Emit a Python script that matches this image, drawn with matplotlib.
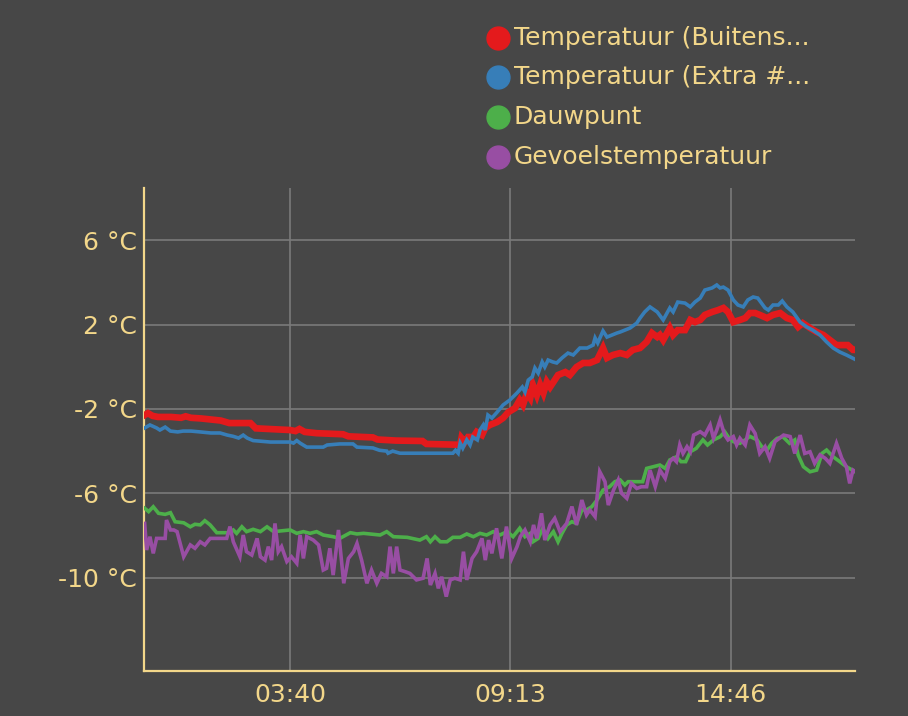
import matplotlib
matplotlib.use("Agg")
import matplotlib.pyplot as plt
from matplotlib.lines import Line2D

plt.rcParams['font.family'] = ['DejaVu Sans']

# ---------------- data (time in minutes since 00:00, value in °C) ----------------
red_t = [0, 5, 12, 20, 40, 55, 62, 70, 85, 100, 115, 128, 160, 168, 200, 220, 228, 234, 242, 260,
         300, 308, 345, 352, 380, 420, 426, 477, 479, 484, 489, 497, 502, 510, 515, 522, 533, 542,
         550, 560, 567, 572, 578, 583, 587, 593, 598, 603, 608, 613, 620, 625, 636, 643, 653, 663,
         673, 684, 693, 699, 708, 719, 729, 738, 749, 759, 767, 775, 779, 784, 794, 799, 806, 817,
         825, 832, 840, 847, 858, 867, 875, 882, 890, 900, 908, 915, 923, 930, 941, 950, 961, 971,
         980, 988, 995, 1006, 1016, 1026, 1036, 1046, 1056, 1063, 1071, 1074]
red_v = [-2.29, -2.2, -2.33, -2.38, -2.38, -2.42, -2.35, -2.42, -2.45, -2.5, -2.55, -2.67, -2.67,
         -2.92, -2.97, -3.0, -3.05, -2.95, -3.09, -3.15, -3.2, -3.3, -3.35, -3.45, -3.5, -3.52,
         -3.66, -3.7, -3.38, -3.57, -3.33, -3.33, -3.09, -3.24, -2.9, -2.76, -2.62, -2.43, -2.15,
         -1.96, -1.58, -1.81, -1.24, -1.48, -0.86, -1.34, -0.86, -1.24, -0.72, -0.96, -0.63, -0.39,
         -0.25, -0.39, -0.01, 0.18, 0.18, 0.32, 0.89, 0.42, 0.56, 0.65, 0.56, 0.8, 0.89, 1.18, 1.6,
         1.41, 1.51, 1.27, 1.84, 1.51, 1.74, 1.74, 2.22, 2.12, 2.22, 2.46, 2.6, 2.69, 2.79, 2.6,
         2.12, 2.22, 2.31, 2.55, 2.55, 2.46, 2.31, 2.46, 2.55, 2.31, 2.22, 1.89, 2.07, 1.84, 1.65,
         1.51, 1.27, 1.03, 1.03, 1.03, 0.8, 0.8]

blue_t = [0, 8, 18, 23, 31, 39, 50, 58, 70, 84, 100, 114, 125, 134, 142, 149, 155, 164, 190, 220,
          225, 230, 235, 245, 270, 276, 295, 315, 321, 345, 355, 366, 368, 375, 386, 420, 466, 470,
          474, 477, 481, 487, 492, 496, 503, 507, 512, 515, 519, 525, 533, 542, 552, 563, 571, 575,
          580, 586, 590, 595, 601, 605, 610, 617, 623, 631, 640, 648, 658, 669, 678, 681, 685, 693,
          699, 714, 719, 734, 744, 749, 756, 764, 775, 784, 794, 799, 806, 817, 825, 832, 840, 847,
          858, 865, 870, 875, 882, 890, 897, 905, 912, 920, 927, 938, 943, 950, 958, 964, 971, 980,
          991, 1001, 1010, 1021, 1031, 1041, 1051, 1061, 1073]
blue_v = [-2.9, -2.76, -2.9, -3.0, -2.86, -3.05, -3.09, -3.05, -3.05, -3.09, -3.14, -3.14, -3.24,
          -3.3, -3.38, -3.24, -3.38, -3.5, -3.57, -3.57, -3.62, -3.5, -3.62, -3.81, -3.81, -3.71,
          -3.66, -3.66, -3.81, -3.85, -3.96, -4.0, -4.1, -4.0, -4.1, -4.1, -4.1, -3.96, -4.1, -3.62,
          -3.86, -3.47, -3.71, -3.33, -3.47, -3.0, -2.76, -3.0, -2.29, -2.43, -2.15, -1.81, -1.58,
          -1.24, -0.96, -1.2, -0.63, -0.48, -0.06, -0.3, 0.23, -0.01, 0.32, 0.23, 0.18, 0.42, 0.65,
          0.56, 0.89, 0.89, 1.03, 1.37, 1.13, 1.7, 1.41, 1.6, 1.65, 1.84, 2.07, 2.31, 2.6, 2.84,
          2.6, 2.22, 2.79, 2.6, 3.07, 3.02, 2.84, 3.07, 3.26, 3.64, 3.74, 3.88, 3.74, 3.78, 3.64,
          3.17, 2.93, 2.84, 3.17, 3.31, 3.26, 2.79, 2.69, 2.93, 2.93, 3.12, 2.84, 2.6, 2.12, 1.89,
          1.74, 1.51, 1.18, 0.89, 0.7, 0.56, 0.37]

green_t = [0, 6, 13, 21, 31, 39, 46, 59, 69, 76, 84, 91, 99, 109, 127, 134, 139, 147, 154, 164,
           175, 185, 195, 220, 230, 240, 250, 260, 270, 285, 295, 311, 321, 331, 356, 366, 376,
           397, 416, 426, 432, 439, 447, 457, 466, 477, 487, 497, 507, 517, 527, 537, 548, 557,
           567, 575, 583, 587, 595, 602, 610, 618, 625, 631, 638, 646, 653, 661, 668, 676, 684,
           693, 703, 711, 719, 726, 731, 753, 759, 769, 779, 787, 794, 804, 811, 818, 825, 834,
           844, 851, 860, 870, 877, 882, 890, 900, 908, 915, 926, 933, 941, 948, 956, 965, 975,
           983, 988, 996, 1006, 1016, 1024, 1031, 1041, 1051, 1061, 1074]
green_v = [-6.71, -6.87, -6.64, -6.95, -7.0, -6.92, -7.35, -7.4, -7.59, -7.47, -7.5, -7.3, -7.5,
           -7.87, -7.87, -7.74, -7.9, -7.59, -7.82, -7.71, -7.82, -7.59, -7.82, -7.74, -7.9, -7.82,
           -7.9, -7.82, -7.98, -8.06, -8.14, -7.87, -7.93, -7.9, -7.98, -7.82, -8.06, -8.09, -8.22,
           -8.06, -8.3, -8.06, -8.3, -8.3, -8.09, -8.09, -7.93, -8.06, -7.9, -7.98, -7.82, -7.98,
           -7.82, -8.06, -7.66, -8.06, -7.9, -8.3, -8.14, -7.66, -8.14, -7.82, -8.3, -7.9, -7.5,
           -7.35, -7.43, -6.79, -6.79, -6.64, -6.32, -5.85, -5.69, -5.45, -5.37, -5.61, -5.45,
           -5.45, -4.82, -4.74, -4.66, -4.82, -4.42, -4.27, -4.5, -4.5, -4.03, -3.87, -3.47, -3.71,
           -3.47, -3.32, -3.08, -3.32, -3.55, -3.63, -3.47, -3.3, -3.47, -3.79, -3.95, -3.63, -3.4,
           -3.32, -3.63, -3.47, -4.19, -4.74, -4.98, -4.9, -4.11, -3.95, -4.27, -4.5, -4.74, -4.98]

purple_t = [0, 3, 8, 13, 18, 31, 33, 39, 44, 49, 59, 69, 76, 84, 91, 99, 109, 124, 129, 134, 144,
            149, 154, 162, 170, 175, 182, 187, 192, 197, 202, 207, 215, 222, 230, 235, 240, 245,
            255, 263, 270, 275, 280, 285, 293, 301, 308, 316, 321, 328, 336, 343, 351, 358, 366,
            371, 376, 381, 386, 394, 401, 411, 421, 427, 432, 439, 444, 449, 456, 462, 469, 477,
            482, 487, 495, 502, 510, 515, 520, 525, 532, 540, 547, 555, 563, 568, 575, 583, 588,
            593, 600, 605, 613, 620, 628, 638, 646, 653, 661, 668, 673, 681, 688, 696, 701, 709,
            716, 721, 729, 736, 744, 751, 759, 764, 772, 779, 787, 794, 799, 804, 809, 814, 820,
            825, 830, 840, 847, 855, 860, 865, 870, 877, 882, 890, 895, 900, 908, 915, 923, 930,
            938, 945, 953, 966, 976, 983, 991, 998, 1006, 1013, 1021, 1029, 1036, 1046, 1054,
            1061, 1066, 1071, 1075]
purple_v = [-7.43, -8.69, -8.06, -8.85, -8.14, -8.14, -7.27, -7.74, -7.74, -7.82, -9.01, -8.45,
            -8.61, -8.3, -8.45, -8.14, -8.14, -8.14, -7.58, -8.3, -9.01, -7.98, -8.77, -8.93,
            -8.14, -9.01, -9.17, -8.53, -9.17, -7.43, -8.77, -8.53, -9.24, -9.01, -9.32, -7.98,
            -9.09, -8.06, -8.22, -8.45, -9.64, -9.56, -8.61, -9.88, -7.74, -10.27, -9.09, -8.77,
            -8.38, -9.17, -10.27, -9.64, -10.27, -9.8, -9.96, -8.53, -9.8, -8.53, -9.64, -9.72,
            -9.8, -10.11, -10.03, -9.09, -10.35, -9.8, -10.51, -9.96, -10.9, -10.11, -10.03,
            -10.11, -8.77, -10.11, -9.09, -8.77, -8.14, -9.17, -8.22, -8.85, -7.66, -9.09, -7.58,
            -9.09, -8.53, -8.06, -7.74, -8.3, -7.5, -8.14, -6.95, -8.22, -7.5, -7.19, -7.82,
            -7.43, -6.63, -7.5, -6.32, -7.03, -6.79, -7.11, -4.97, -5.45, -6.56, -5.84, -5.37,
            -6.0, -6.24, -5.53, -5.77, -5.69, -5.69, -4.9, -5.69, -4.9, -5.29, -4.5, -4.34, -4.5,
            -3.71, -4.11, -3.79, -4.03, -3.24, -3.08, -3.24, -2.76, -3.39, -3.0, -2.52, -3.24,
            -3.47, -3.31, -3.71, -3.39, -3.71, -2.76, -3.16, -4.11, -3.79, -4.34, -3.55, -3.24,
            -3.31, -4.11, -3.24, -4.11, -4.03, -4.58, -4.18, -4.34, -4.58, -3.63, -4.34, -4.74,
            -5.53, -4.9, -4.98]

series_names = ["Temperatuur (Buitens...", "Temperatuur (Extra #...", "Dauwpunt", "Gevoelstemperatuur"]
series_colors = ["#e41a1c", "#377eb8", "#4daf4a", "#984ea3"]

y_ticks = [6, 2, -2, -6, -10]
y_tick_labels = ["6 °C", "2 °C", "-2 °C", "-6 °C", "-10 °C"]
x_ticks = [220, 553, 886]
x_tick_labels = ["03:40", "09:13", "14:46"]

# ---------------- styling ----------------
BG = "#474747"
TXT = "#f3d78a"
GRID = "#7a7a7a"
FS = 18

fig = plt.figure(figsize=(9.08, 7.16), dpi=100, facecolor=BG)
ax = fig.add_axes([144 / 908, 1 - 671 / 716, (855 - 144) / 908, (671 - 188) / 716])
ax.set_facecolor(BG)

widths = [4.8, 2.6, 2.6, 2.6]
all_data = [(red_t, red_v), (blue_t, blue_v), (green_t, green_v), (purple_t, purple_v)]
for (t, v), c, w in zip(all_data, series_colors, widths):
    ax.plot(t, v, color=c, lw=w, solid_joinstyle="miter", zorder=3)

ax.set_xlim(-1, 1074)
ax.set_ylim(-14.43, 8.48)
ax.set_yticks(y_ticks)
ax.set_yticklabels(y_tick_labels)
ax.set_xticks(x_ticks)
ax.set_xticklabels(x_tick_labels)
ax.tick_params(axis="both", length=0, labelsize=FS, colors=TXT)
ax.tick_params(axis="y", pad=5)
ax.tick_params(axis="x", pad=9)
ax.grid(True, color=GRID, lw=1.2, zorder=1)
for s in ["top", "right"]:
    ax.spines[s].set_visible(False)
for s in ["left", "bottom"]:
    ax.spines[s].set_color(TXT)
    ax.spines[s].set_linewidth(1.6)

# ---------------- legend (manual, top right) ----------------
row_y = [38, 77, 117, 157]
for name, c, yy in zip(series_names, series_colors, row_y):
    fig.add_artist(Line2D([498 / 908], [1 - yy / 716], marker="o", markersize=16.5,
                          color=c, linestyle="", transform=fig.transFigure))
    fig.text(514 / 908, 1 - yy / 716, name, color=TXT, fontsize=FS, va="center", ha="left")

fig.savefig("out.png", dpi=100, facecolor=BG)
